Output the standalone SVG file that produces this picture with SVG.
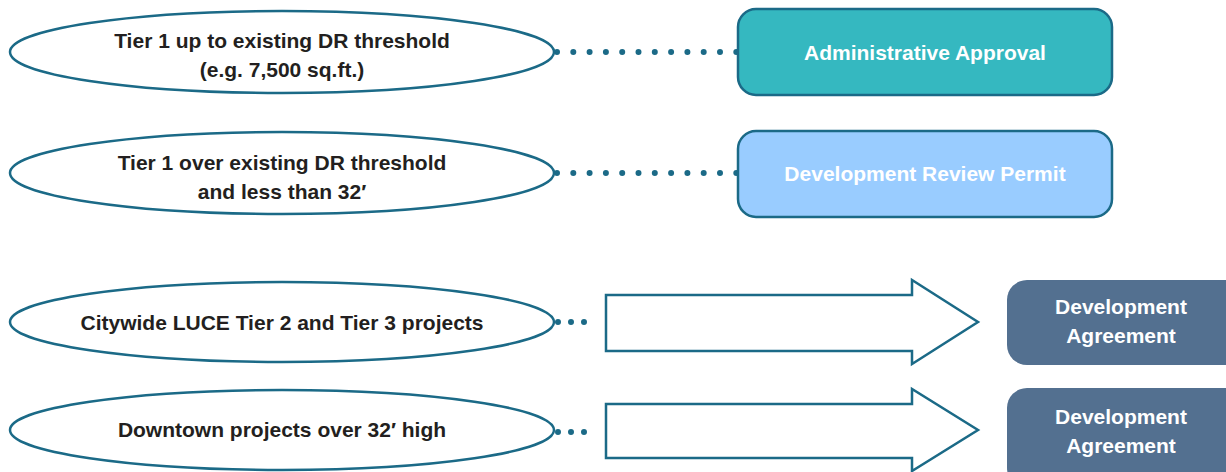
<svg xmlns="http://www.w3.org/2000/svg" width="1226" height="472" viewBox="0 0 1226 472">
<defs>
<style>
.ell{fill:#fff;stroke:#1b6a87;stroke-width:2.5}
.lt{font-family:"Liberation Sans",Arial,sans-serif;font-weight:bold;font-size:21px;fill:#231f20;text-anchor:middle}
.wt{font-family:"Liberation Sans",Arial,sans-serif;font-weight:bold;font-size:21px;fill:#fff;text-anchor:middle}
.dots{fill:none;stroke:#1b6a87;stroke-width:6;stroke-linecap:round;stroke-dasharray:0 16.3}
.dots3{fill:none;stroke:#1b6a87;stroke-width:6;stroke-linecap:round;stroke-dasharray:0 13}
.arr{fill:#fff;stroke:#1b6a87;stroke-width:2.5;stroke-linejoin:miter}
.box{stroke:#1b6a87;stroke-width:2.5}
</style>
</defs>
<g id="connectors">
<path class="dots" d="M557 52 H737"/>
<path class="dots" d="M557 173 H737"/>
<path class="dots3" d="M558 322 H586"/>
<path class="dots3" d="M558 432 H586"/>
<path class="arr" d="M606 295 H912 V280 L978 322 L912 364 V351 H606 Z"/>
<path class="arr" d="M606 404 H912 V389 L978 430 L912 471 V458 H606 Z"/>
</g>
<g id="tier1-up">
<ellipse class="ell" cx="282" cy="52" rx="272" ry="41"/>
<text class="lt" x="282" y="48">Tier 1 up to existing DR threshold</text>
<text class="lt" x="282" y="77">(e.g. 7,500 sq.ft.)</text>
</g>
<g id="tier1-over">
<ellipse class="ell" cx="282" cy="173" rx="272" ry="41"/>
<text class="lt" x="282" y="170">Tier 1 over existing DR threshold</text>
<text class="lt" x="282" y="199">and less than 32′</text>
</g>
<g id="citywide">
<ellipse class="ell" cx="282" cy="322" rx="272" ry="40"/>
<text class="lt" x="282" y="330">Citywide LUCE Tier 2 and Tier 3 projects</text>
</g>
<g id="downtown">
<ellipse class="ell" cx="282" cy="430" rx="272" ry="40"/>
<text class="lt" x="282" y="437">Downtown projects over 32′ high</text>
</g>
<g id="admin-approval">
<rect class="box" x="738" y="9" width="374" height="86" rx="18" fill="#35b8c0"/>
<text class="wt" x="925" y="60">Administrative Approval</text>
</g>
<g id="dr-permit">
<rect class="box" x="738" y="131" width="374" height="86" rx="18" fill="#99ccff"/>
<text class="wt" x="925" y="181">Development Review Permit</text>
</g>
<g id="dev-agreement-1">
<rect x="1007" y="280" width="240" height="85" rx="20" fill="#537090"/>
<text class="wt" x="1121" y="314">Development</text>
<text class="wt" x="1121" y="343">Agreement</text>
</g>
<g id="dev-agreement-2">
<rect x="1007" y="388" width="240" height="100" rx="20" fill="#537090"/>
<text class="wt" x="1121" y="424">Development</text>
<text class="wt" x="1121" y="453">Agreement</text>
</g>
</svg>
